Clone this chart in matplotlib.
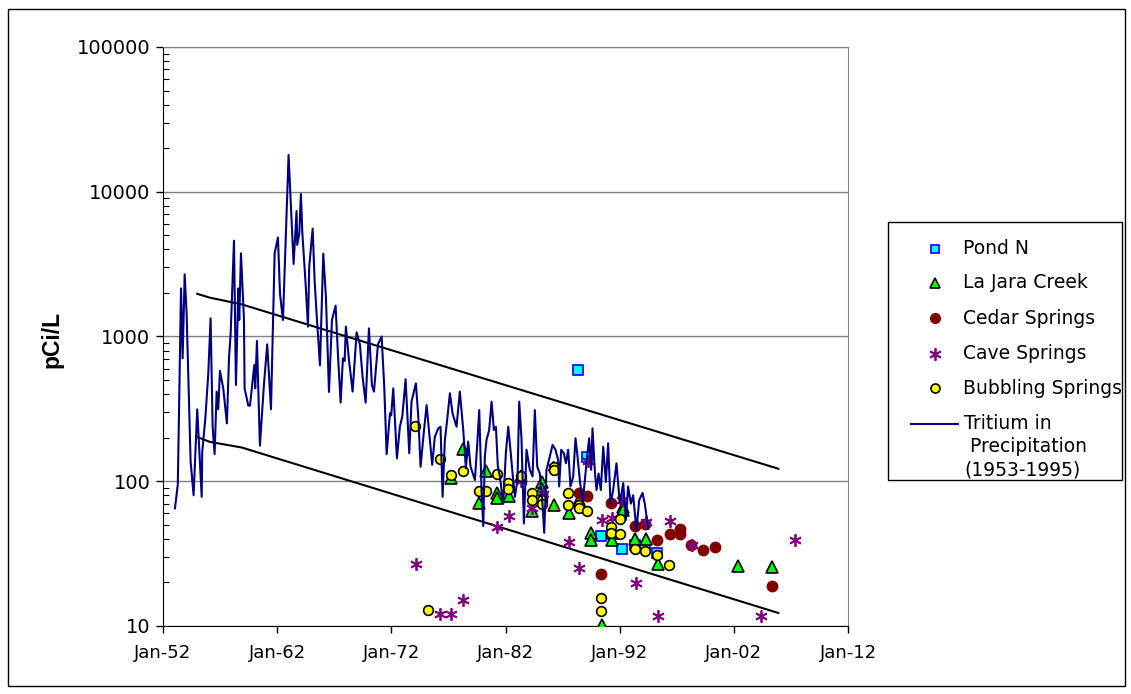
import matplotlib
matplotlib.use('Agg')
import matplotlib.pyplot as plt
from matplotlib.lines import Line2D
from matplotlib.patches import Rectangle
from matplotlib.ticker import LogLocator, NullFormatter

plt.rcParams['font.family'] = ['DejaVu Sans']

# tritium in precipitation (decimal year, pCi/L)
precip_year = [1953.05, 1953.3, 1953.58, 1953.72, 1953.90, 1954.07, 1954.42, 1954.68, 1955.0, 1955.18,
               1955.39, 1955.44, 1955.71, 1955.97, 1956.17, 1956.35, 1956.52, 1956.70, 1956.84, 1956.99,
               1957.28, 1957.60, 1957.78, 1957.93, 1958.22, 1958.39, 1958.60, 1958.68, 1958.83, 1959.09,
               1959.15, 1959.47, 1959.62, 1960.0, 1960.08, 1960.23, 1960.49, 1960.84, 1961.13, 1961.46,
               1961.78, 1962.07, 1962.25, 1962.51, 1963.0, 1963.44, 1963.70, 1963.76, 1963.94, 1964.08,
               1964.2, 1964.49, 1964.70, 1964.81, 1965.11, 1965.28, 1965.46, 1965.75, 1966.04, 1966.27,
               1966.54, 1966.80, 1967.12, 1967.32, 1967.56, 1967.76, 1967.91, 1968.02, 1968.29, 1968.61,
               1968.96, 1969.25, 1969.48, 1969.75, 1970.04, 1970.30, 1970.48, 1970.83, 1971.15, 1971.38,
               1971.59, 1971.88, 1971.99, 1972.17, 1972.49, 1972.75, 1972.96, 1973.25, 1973.57, 1973.77,
               1974.15, 1974.36, 1974.56, 1974.85, 1975.09, 1975.32, 1975.58, 1975.81, 1976.11, 1976.31,
               1976.49, 1976.69, 1976.89, 1977.13, 1977.36, 1977.71, 1978.0, 1978.30, 1978.53, 1978.73,
               1978.94, 1979.32, 1979.52, 1979.70, 1979.90, 1980.05, 1980.19, 1980.34, 1980.57, 1980.78,
               1980.98, 1981.16, 1981.33, 1981.51, 1981.80, 1982.03, 1982.24, 1982.41, 1982.62, 1982.82,
               1983.05, 1983.20, 1983.40, 1983.61, 1983.84, 1984.13, 1984.37, 1984.57, 1984.78, 1985.01,
               1985.24, 1985.39, 1985.59, 1985.88, 1986.12, 1986.38, 1986.61, 1986.70, 1986.88, 1987.11,
               1987.29, 1987.49, 1987.69, 1987.93, 1988.13, 1988.31, 1988.51, 1988.75, 1988.95, 1989.15,
               1989.33, 1989.50, 1989.62, 1989.83, 1989.97, 1990.15, 1990.35, 1990.56, 1990.79, 1990.99,
               1991.20, 1991.43, 1991.72, 1992.01, 1992.31, 1992.54, 1992.74, 1992.98, 1993.18, 1993.47,
               1993.71, 1994.0, 1994.2, 1994.35, 1994.5]
precip_val = [65, 95, 2150, 707, 2690, 1446, 137, 80, 314, 164,
              78, 160, 272, 556, 1334, 238, 154, 416, 314, 580,
              438, 251, 707, 1052, 4590, 462, 2150, 1300, 3756, 1334,
              438, 333, 333, 635, 438, 931, 176, 462, 883, 314,
              3756, 4820, 1967, 1300, 17950, 3170, 7360, 4290, 5160, 9660,
              5300, 2330, 1170, 3040, 5560, 2455, 1408, 632, 3735, 1885,
              414, 1300, 1633, 765, 349, 707, 677, 1170, 688, 416,
              1069, 879, 528, 349, 1138, 462, 416, 883, 1000, 450,
              154, 295, 285, 438, 144, 238, 280, 506, 156, 355,
              474, 280, 126, 220, 336, 214, 130, 203, 232, 238,
              78, 193, 265, 405, 295, 238, 416, 226, 123, 188,
              126, 102, 178, 310, 87, 49, 148, 193, 226, 355,
              226, 238, 126, 108, 70, 156, 238, 173, 113, 78,
              102, 355, 198, 51, 165, 120, 108, 310, 126, 113,
              70, 44, 120, 148, 178, 165, 140, 92, 165, 156,
              133, 165, 92, 108, 198, 148, 102, 70, 102, 148,
              198, 120, 232, 116, 87, 113, 87, 173, 99, 183,
              70, 87, 133, 70, 97, 54, 92, 70, 80, 46,
              74, 83, 70, 57, 47]

pond_year = [1988.37, 1989.18, 1990.35, 1992.22, 1993.33, 1994.26, 1995.3]
pond_val = [588, 148, 42, 34, 36, 35, 32]

lajara_year = [1977.19, 1978.30, 1979.70, 1980.28, 1981.22, 1981.22, 1982.30, 1983.35, 1984.34, 1985.24,
               1985.24, 1986.26, 1987.58, 1988.42, 1989.47, 1989.47, 1990.47, 1991.34, 1991.34, 1992.3,
               1992.3, 1993.33, 1994.29, 1995.37, 2002.4, 2005.3]
lajara_val = [106, 166, 71, 118, 83, 77, 79, 108, 62, 99,
              89, 68, 60, 74, 44, 39, 10.2, 44, 39.5, 66,
              63, 40, 40, 27, 26, 25.5]

cedar_year = [1988.42, 1989.18, 1990.35, 1991.28, 1993.33, 1994.26, 1995.28, 1996.39, 1997.3, 1997.3,
              1998.27, 1999.3, 2000.35, 2005.3]
cedar_val = [83, 79, 23, 71, 49, 51, 39, 43, 47, 43,
             36, 33.5, 35, 19]

cave_year = [1974.15, 1976.25, 1977.22, 1978.30, 1981.22, 1982.30, 1983.40, 1984.34, 1985.30, 1986.2,
             1987.52, 1988.45, 1989.22, 1990.43, 1991.3, 1992.16, 1993.4, 1994.27, 1995.33, 1996.45,
             1998.3, 2004.42, 2007.34]
cave_val = [27, 12.1, 12.1, 15.1, 48.5, 57.5, 100, 65, 81, 125,
            37.8, 25, 139, 54, 56, 74, 19.9, 52, 11.8, 53,
            36, 11.8, 39]

bubbling_year = [1974.06, 1975.17, 1976.25, 1977.19, 1978.24, 1979.67, 1980.25, 1981.22, 1982.24, 1982.24,
                 1983.35, 1984.28, 1984.28, 1985.18, 1985.18, 1986.24, 1986.24, 1987.49, 1987.49, 1988.42,
                 1988.42, 1989.18, 1990.38, 1990.38, 1991.28, 1991.28, 1992.07, 1992.07, 1993.33, 1994.26,
                 1995.31, 1996.33]
bubbling_val = [241, 12.9, 143, 110, 118, 86, 86, 113, 97, 88,
                108, 83, 74, 74, 70, 125, 120, 83, 69, 69,
                65, 62, 15.7, 12.6, 48, 44, 55, 43, 34, 33,
                31, 26.5]

# decay envelope lines
upper_year = [1955.0, 1956.1, 1958.9, 2005.9]
upper_val = [1970, 1855, 1667, 122]
lower_year = [1955.0, 1956.1, 1958.9, 2005.9]
lower_val = [202, 187, 171, 12.3]

x_years = [1952, 1962, 1972, 1982, 1992, 2002, 2012]
y_ticks = [10, 100, 1000, 10000, 100000]

fig = plt.figure(figsize=(11.31, 6.94), dpi=100)
ax = fig.add_axes([0.1441, 0.098, 0.6057, 0.8343])

ax.plot(upper_year, upper_val, color='black', lw=1.5, zorder=2)
ax.plot(lower_year, lower_val, color='black', lw=1.5, zorder=2)

ax.plot(pond_year, pond_val, ls='none', marker='s', ms=6.5, mfc='#00FFFF', mec='#0000FF', mew=1.2, zorder=3)
ax.plot(lajara_year, lajara_val, ls='none', marker='^', ms=8.5, mfc='#00FF00', mec='black', mew=1.2, zorder=4)
ax.plot(cedar_year, cedar_val, ls='none', marker='o', ms=7.5, mfc='#800000', mec='#800000', mew=1, zorder=5)
ax.plot(cave_year, cave_val, ls='none', marker=(6, 2, 0), ms=9, mec='#800080', mew=1.3, zorder=6)
ax.plot(bubbling_year, bubbling_val, ls='none', marker='o', ms=7, mfc='#FFFF00', mec='black', mew=1.2, zorder=7)
ax.plot(precip_year, precip_val, color='#000080', lw=1.5, zorder=8)

ax.set_yscale('log')
ax.set_ylim(10, 100000)
ax.set_xlim(1952, 2012)

ax.set_yticks(y_ticks)
ax.set_yticklabels([str(v) for v in y_ticks])
ax.yaxis.set_minor_locator(LogLocator(base=10, subs=range(2, 10)))
ax.yaxis.set_minor_formatter(NullFormatter())
ax.set_xticks(x_years)
ax.set_xticklabels(['Jan-%02d' % (y % 100) for y in x_years])

ax.tick_params(axis='y', which='major', direction='out', length=5, width=1, labelsize=14, pad=4)
ax.tick_params(axis='y', which='minor', direction='in', length=4, width=0.8)
ax.tick_params(axis='x', which='major', direction='out', length=5, width=1, labelsize=13, pad=8)

ax.yaxis.grid(True, which='major', color='#808080', lw=1)
ax.set_axisbelow(True)

ax.spines['left'].set_color('black')
ax.spines['bottom'].set_color('black')
ax.spines['top'].set_color('#808080')
ax.spines['right'].set_color('#808080')


def fx(px):
    return px / 1131.0


def fy(py):
    return 1 - py / 694.0


fig.text(fx(52), fy(339), 'pCi/L', rotation=90, ha='center', va='center',
         fontsize=16.5, fontweight='bold', family='Liberation Sans')

# outer chart border
fig.add_artist(Rectangle((0.007, 0.011), 0.988, 0.976, transform=fig.transFigure,
                         fill=False, ec='black', lw=1))

# legend box drawn by hand to copy the layout
fig.add_artist(Rectangle((fx(888), fy(480)), fx(1122) - fx(888), fy(222) - fy(480),
                         transform=fig.transFigure, fill=True, fc='white', ec='black', lw=1))

leg_labels = ['Pond N', 'La Jara Creek', 'Cedar Springs', 'Cave Springs', 'Bubbling Springs']
leg_rows = [249, 283, 318, 354, 388]
leg_styles = [dict(marker='s', ms=6, mfc='#00FFFF', mec='#0000FF', mew=1.2),
              dict(marker='^', ms=7.5, mfc='#00FF00', mec='black', mew=1.2),
              dict(marker='o', ms=7, mfc='#800000', mec='#800000', mew=1),
              dict(marker=(6, 2, 0), ms=9, mec='#800080', mew=1.3),
              dict(marker='o', ms=6.5, mfc='#FFFF00', mec='black', mew=1.2)]
for lab, row, st in zip(leg_labels, leg_rows, leg_styles):
    fig.add_artist(Line2D([fx(935)], [fy(row)], ls='none', transform=fig.transFigure, **st))
    fig.text(fx(963), fy(row), lab, fontsize=13.5, va='center', ha='left')

fig.add_artist(Line2D([fx(911), fx(958)], [fy(424), fy(424)], color='#000080', lw=1.5,
                      transform=fig.transFigure))
fig.text(fx(964), fy(424), 'Tritium in', fontsize=13.5, va='center', ha='left')
fig.text(fx(964), fy(447), ' Precipitation', fontsize=13.5, va='center', ha='left')
fig.text(fx(964), fy(470), '(1953-1995)', fontsize=13.5, va='center', ha='left')

fig.savefig('out.png', dpi=100)
